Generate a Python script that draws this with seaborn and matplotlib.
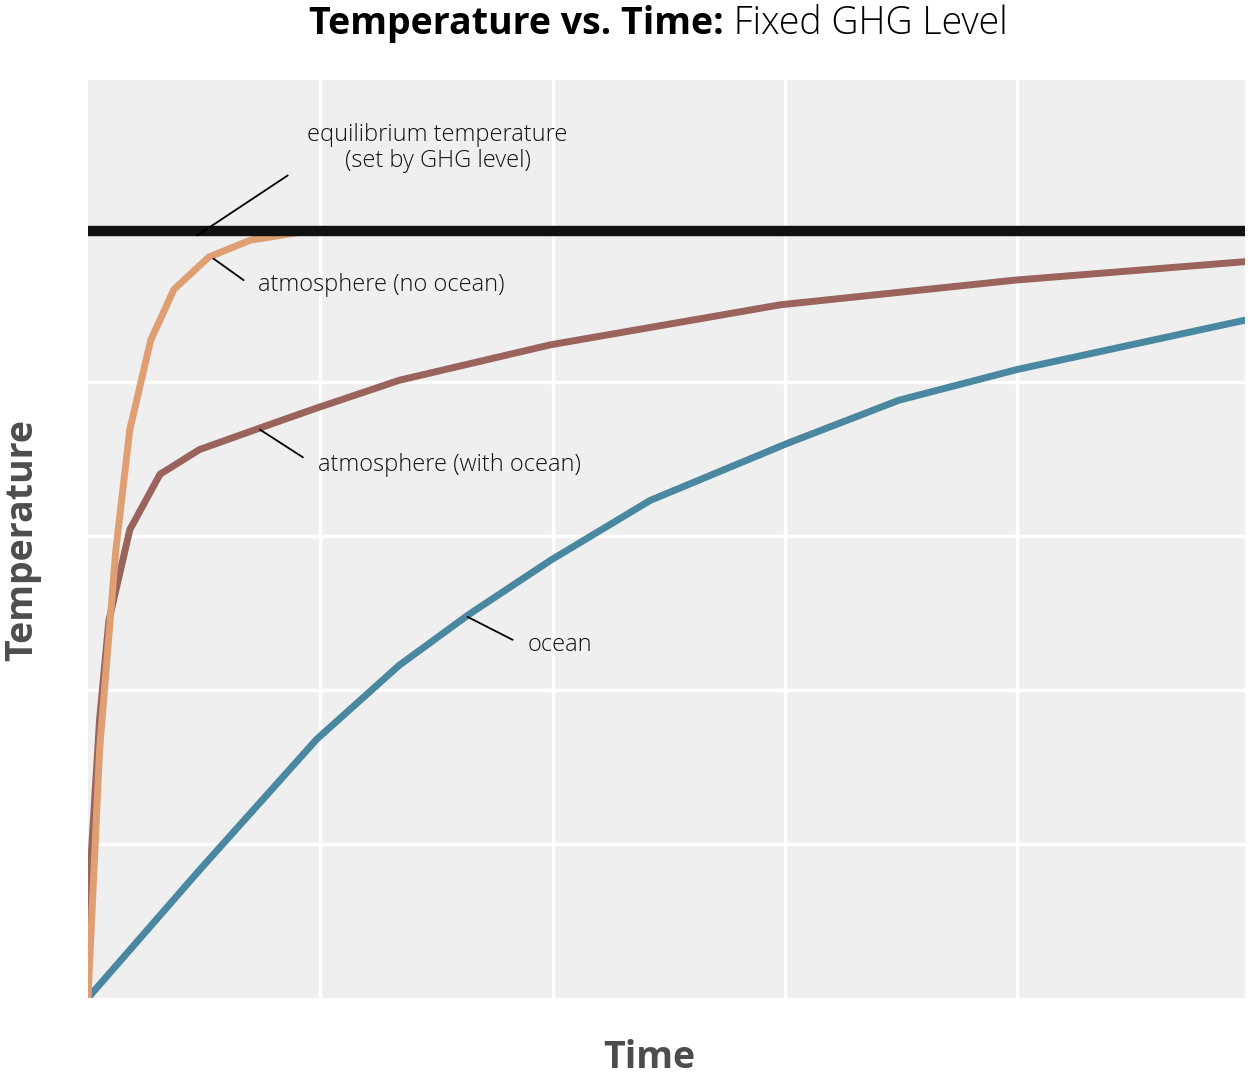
import pandas as pd
import matplotlib.pyplot as plt
import seaborn as sns

# values (time, temperature in grid units)
ocean_t = [0, 0.48, 0.985, 1.34, 1.64, 1.99, 2.42, 3.01, 3.49, 4.0, 4.98]
ocean_y = [0, 0.83, 1.68, 2.16, 2.49, 2.84, 3.23, 3.60, 3.88, 4.08, 4.40]

with_ocean_t = [0, 0.01, 0.05, 0.09, 0.18, 0.31, 0.48, 0.74, 0.985, 1.34, 1.99, 2.98, 3.99, 4.98]
with_ocean_y = [0, 0.83, 1.81, 2.45, 3.04, 3.40, 3.56, 3.70, 3.83, 4.01, 4.24, 4.50, 4.66, 4.78]

no_ocean_t = [0, 0.05, 0.12, 0.18, 0.27, 0.37, 0.52, 0.70, 0.91]
no_ocean_y = [0, 1.61, 2.91, 3.69, 4.27, 4.60, 4.81, 4.92, 4.97]

equilibrium = 4.98

sns.set_style('darkgrid', {'axes.facecolor': '#efefef', 'grid.color': 'white'})
fig = plt.figure(figsize=(12.48, 10.8), dpi=100)
ax = fig.add_axes([0.0705, 0.076, 0.927, 0.85])

ax.axhline(equilibrium, color='#111111', lw=7.5, zorder=5)
sns.lineplot(x=no_ocean_t, y=no_ocean_y, ax=ax, color='#e09f73', lw=5, zorder=4)
sns.lineplot(x=with_ocean_t, y=with_ocean_y, ax=ax, color='#9a645c', lw=5, zorder=3)
sns.lineplot(x=ocean_t, y=ocean_y, ax=ax, color='#4a87a0', lw=5, zorder=3)

ax.set_xlim(0, 4.98)
ax.set_ylim(0, 5.96)
ax.set_xticks([1, 2, 3, 4])
ax.set_yticks([1, 2, 3, 4, 5])
ax.grid(lw=2.5)
ax.tick_params(labelbottom=False, labelleft=False, length=0)
for s in ax.spines.values():
    s.set_visible(False)

font = 'Open Sans'
kw = dict(fontsize=17, family=font, fontweight='light', color='#111111')
ax.plot([0.47, 0.86], [4.95, 5.34], color='black', lw=1.3, zorder=6)
ax.text(1.505, 5.52, 'equilibrium temperature\n(set by GHG level)', ha='center', va='center', linespacing=1.1, **kw)
ax.plot([0.54, 0.67], [4.80, 4.66], color='black', lw=1.3, zorder=6)
ax.text(0.731, 4.63, 'atmosphere (no ocean)', ha='left', va='center', **kw)
ax.plot([0.74, 0.925], [3.69, 3.51], color='black', lw=1.3, zorder=6)
ax.text(0.99, 3.46, 'atmosphere (with ocean)', ha='left', va='center', **kw)
ax.plot([1.634, 1.828], [2.474, 2.325], color='black', lw=1.3, zorder=6)
ax.text(1.892, 2.29, 'ocean', ha='left', va='center', **kw)

fig.text(0.58, 0.978, 'Temperature vs. Time:', ha='right', va='center',
         fontsize=27, family=font, fontweight='bold', color='black')
fig.text(0.58, 0.978, ' Fixed GHG Level', ha='left', va='center',
         fontsize=27, family=font, fontweight='light', color='black')
fig.text(0.52, 0.02, 'Time', ha='center', va='center', fontsize=27,
         family=font, fontweight='bold', color='#4d4d4d')
fig.text(0.018, 0.50, 'Temperature', ha='center', va='center', rotation=90,
         fontsize=27, family=font, fontweight='bold', color='#4d4d4d')

fig.savefig('out.png', dpi=100)
